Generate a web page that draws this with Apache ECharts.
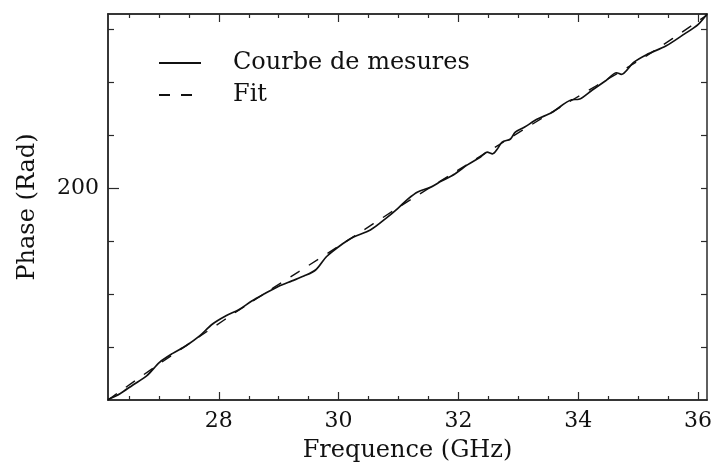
<!DOCTYPE html>
<html>
<head>
<meta charset="utf-8">
<script src="https://cdn.jsdelivr.net/npm/echarts@6/dist/echarts.min.js"></script>
<style>
html,body{margin:0;padding:0;background:#fff;}
#chart{width:715px;height:468px;}
</style>
</head>
<body>
<div id="chart"></div>
<script>
// ---- data ----
const measFreq = [26.15,26.35,26.56,26.80,27.01,27.23,27.46,27.68,27.89,28.12,28.34,28.55,28.77,29.00,29.22,29.42,29.62,29.80,30.08,30.25,30.53,30.79,30.99,31.16,31.32,31.54,31.71,31.94,32.15,32.37,32.48,32.57,32.65,32.73,32.87,32.95,33.10,33.31,33.56,33.89,34.01,34.23,34.47,34.64,34.72,34.92,35.14,35.47,35.77,36.00,36.15];
const measPhase = [160.1,161.2,162.8,164.6,167.1,168.8,170.3,172.1,174.3,175.9,177.1,178.7,180.1,181.5,182.5,183.4,184.6,187.1,189.6,190.8,192.1,194.3,196.2,198.0,199.3,200.2,201.3,202.7,204.4,205.9,206.8,206.5,207.4,208.7,209.3,210.6,211.5,213.0,214.3,216.7,216.8,218.5,220.4,221.8,221.5,223.7,225.2,226.9,229.1,230.9,232.9];
const fitFreq = [26.15,26.85,27.68,28.50,29.33,30.16,30.99,31.82,32.65,33.48,34.31,35.14,36.15];
const fitPhase = [160.0,165.6,172.0,178.2,184.2,190.2,196.3,202.2,208.0,213.8,219.4,225.0,232.7];
const xMajorTicks = [28,30,32,34,36];
const xMinorTicks = [26.5,27,27.5,28.5,29,29.5,30.5,31,31.5,32.5,33,33.5,34.5,35,35.5];
const yMajorTicks = [200];
const yMinorTicks = [170,180,190,210,220,230];
const xRange = [26.15, 36.15];
const yRange = [160, 232.9];
const seriesNames = ['Courbe de mesures', 'Fit'];
const xTitle = 'Frequence (GHz)';
const yTitle = 'Phase (Rad)';

// ---- chart ----
const FONT = 'DejaVu Serif';
const INK = '#111';
const chart = echarts.init(document.getElementById('chart'), null, {renderer:'canvas'});

function pts(xs, ys){ return xs.map((x,i)=>[x, ys[i]]); }

function xAx(pos, ticks, len, labels, name){
  return {
    type:'value', position:pos, min:xRange[0], max:xRange[1],
    name: name || '', nameLocation:'middle', nameGap:39,
    nameTextStyle:{fontFamily:FONT, fontSize:24, color:INK},
    axisLine:{show:true, onZero:false, lineStyle:{color:'#2a2a2a', width:1.5}},
    axisTick:{show:true, inside:true, length:len, customValues:ticks, lineStyle:{color:'#2a2a2a', width:1.2}},
    axisLabel:{show:!!labels, customValues: labels || [], margin:10, fontFamily:FONT, fontSize:22, color:INK},
    splitLine:{show:false}
  };
}
function yAx(pos, ticks, len, labels, name){
  return {
    type:'value', position:pos, min:yRange[0], max:yRange[1],
    name: name || '', nameLocation:'middle', nameGap:68,
    nameTextStyle:{fontFamily:FONT, fontSize:24, color:INK},
    axisLine:{show:true, onZero:false, lineStyle:{color:'#2a2a2a', width:1.5}},
    axisTick:{show:true, inside:true, length:len, customValues:ticks, lineStyle:{color:'#2a2a2a', width:1.2}},
    axisLabel:{show:!!labels, customValues: labels || [], margin:9, fontFamily:FONT, fontSize:22, color:INK},
    splitLine:{show:false}
  };
}

const option = {
  backgroundColor:'#fff',
  animation:false,
  grid:{left:108, right:4, top:14, bottom:65},
  legend:{
    orient:'vertical', left:153, top:46, itemWidth:42, itemHeight:14, itemGap:8,
    itemStyle:{opacity:0},
    textStyle:{fontFamily:FONT, fontSize:24, color:INK, padding:[0,0,0,27]},
    data:seriesNames
  },
  xAxis:[
    xAx('bottom', xMajorTicks, 8, xMajorTicks, xTitle),
    xAx('bottom', xMinorTicks, 4),
    xAx('top', xMajorTicks, 8),
    xAx('top', xMinorTicks, 4)
  ],
  yAxis:[
    yAx('left', yMajorTicks, 11, yMajorTicks, yTitle),
    yAx('left', yMinorTicks, 6),
    yAx('right', yMajorTicks.concat(yMinorTicks), 6)
  ],
  series:[
    {name:seriesNames[0], type:'line', xAxisIndex:0, yAxisIndex:0, data:pts(measFreq, measPhase),
     symbol:'none', smooth:0.3, lineStyle:{color:INK, width:1.7}, itemStyle:{color:INK}},
    {name:seriesNames[1], type:'line', xAxisIndex:0, yAxisIndex:0, data:pts(fitFreq, fitPhase),
     symbol:'none', smooth:0.3, lineStyle:{color:INK, width:1.4, type:[11,11]}, itemStyle:{color:INK}}
  ]
};
chart.setOption(option);
</script>
</body>
</html>
